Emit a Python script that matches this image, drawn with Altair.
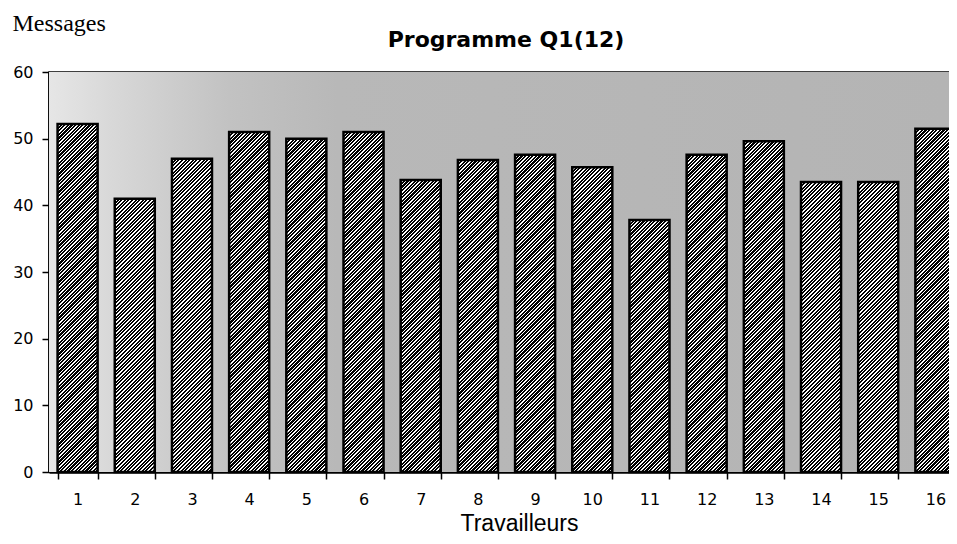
import altair as alt

# ---- data ----
workers = [str(i) for i in range(1, 17)]
messages = [52.2, 41.0, 47.0, 51.0, 50.0, 51.0, 43.8, 46.8, 47.6, 45.7,
            37.8, 47.6, 49.6, 43.5, 43.5, 51.5]
y_ticks = [0, 10, 20, 30, 40, 50, 60]

# ---- layout constants ----
PLOT_W = 900
RANGE_W = 915
PLOT_H = 400
Y_MAX = 60
PAD_INNER = 0.3
PAD_OUTER = 0.15
n = len(workers)
step = RANGE_W / (n - PAD_INNER + 2 * PAD_OUTER)
bar_w = step * (1 - PAD_INNER)


def hatch(value, period_px=3.6, dark=0.6):
    """Diagonal '////' hatch as a striped linear gradient in bar bbox units."""
    w = bar_w
    h = value / Y_MAX * PLOT_H
    c = (w + h) / (w * w + h * h)
    period = period_px / (w + h)
    stops = []
    k = 0
    while k * period < 1:
        t = k * period
        a = min(t + dark * period, 1.0)
        b = min(t + period, 1.0)
        stops += [
            {"offset": round(t, 5), "color": "#000000"},
            {"offset": round(a, 5), "color": "#000000"},
            {"offset": round(a, 5), "color": "#ffffff"},
            {"offset": round(b, 5), "color": "#ffffff"},
        ]
        k += 1
    return {"gradient": "linear", "x1": 0, "y1": 0,
            "x2": round(c * w, 6), "y2": round(c * h, 6), "stops": stops}


records = [{"worker": w, "messages": v, "hatch": hatch(v)}
           for w, v in zip(workers, messages)]
data = alt.Data(values=records)

background = alt.Chart(alt.Data(values=[{}])).mark_rect(
    color=alt.LinearGradient(
        gradient="linear", x1=0, y1=0, x2=1, y2=0,
        stops=[
            alt.GradientStop(color="#e6e6e6", offset=0),
            alt.GradientStop(color="#d8d8d8", offset=0.07),
            alt.GradientStop(color="#c2c2c2", offset=0.2),
            alt.GradientStop(color="#b8b8b8", offset=0.32),
            alt.GradientStop(color="#b4b4b4", offset=1),
        ],
    )
).encode(
    x=alt.value(0), x2=alt.value("width"),
    y=alt.value(0), y2=alt.value("height"),
)

bars = alt.Chart(data).mark_bar(stroke="black", strokeWidth=2.5, aria=False).encode(
    x=alt.X(
        "worker:N", sort=workers,
        scale=alt.Scale(range=[0, RANGE_W], paddingInner=PAD_INNER, paddingOuter=PAD_OUTER),
        axis=alt.Axis(
            title="Travailleurs", labelAngle=0, tickBand="extent",
            tickSize=7, tickWidth=1.5, tickColor="black",
            domainColor="black", domainWidth=2.5,
            labelFont="DejaVu Sans", labelFontSize=16, labelColor="black", labelPadding=12,
            titleFont="Liberation Sans", titleFontSize=23, titleFontWeight="normal",
            titleColor="black", titleX=470, titleY=58, titleAlign="center",
            titleBaseline="alphabetic",
        ),
    ),
    y=alt.Y(
        "messages:Q", stack=None,
        scale=alt.Scale(domain=[0, Y_MAX], nice=False),
        axis=alt.Axis(
            values=y_ticks, grid=False, title="Messages",
            tickSize=7, tickWidth=1.5, tickColor="black",
            domainColor="black", domainWidth=2.5,
            labelFont="DejaVu Sans", labelFontSize=16, labelColor="black", labelPadding=9,
            titleFont="Liberation Serif", titleFontSize=24, titleFontWeight="normal",
            titleColor="black", titleAngle=0, titleX=-37, titleY=-42,
            titleAlign="left", titleBaseline="alphabetic",
        ),
    ),
    fill=alt.Fill("hatch:N", scale=None, legend=None),
)

chart = alt.layer(background, bars).properties(
    width=PLOT_W, height=PLOT_H,
    title=alt.TitleParams(
        "Programme Q1(12)", font="DejaVu Sans", fontSize=22, fontWeight="bold",
        color="black", anchor="middle", dx=7, offset=-58, baseline="alphabetic",
    ),
    autosize=alt.AutoSizeParams(type="none"),
    padding={"left": 41, "top": 64, "right": 0, "bottom": 64},
).configure_view(stroke="black", strokeWidth=1.5)

chart.save("out.html", embed_options={"renderer": "svg", "actions": False})
